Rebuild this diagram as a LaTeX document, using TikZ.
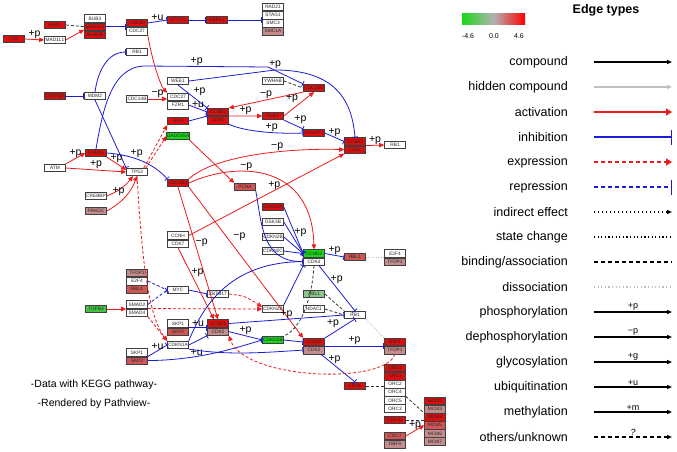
\documentclass[tikz,border=0pt]{standalone}
\usepackage{fontspec}
\setmainfont{Liberation Sans}
\usetikzlibrary{positioning,arrows.meta}

\definecolor{boxred}{RGB}{222,14,14}
\definecolor{boxmid}{RGB}{208,86,86}
\definecolor{boxpink}{RGB}{196,140,140}
\definecolor{boxgreen}{RGB}{24,215,24}
\definecolor{boxlgreen}{RGB}{140,200,140}
\definecolor{boxmgreen}{RGB}{70,196,70}
\definecolor{edgered}{RGB}{236,28,28}
\definecolor{edgeblue}{RGB}{28,28,214}

\tikzset{
gene/.style={
  draw=black!75,
  line width=0.6pt,
  minimum width=21pt,
  minimum height=7.5pt,
  inner sep=0pt,
  text=black!85,
  font=\fontsize{4.8}{5}\selectfont
  },
gwhite/.style={gene, fill=white},
gred/.style={gene, fill=boxred},
gmid/.style={gene, fill=boxmid},
gpink/.style={gene, fill=boxpink},
ggreen/.style={gene, fill=boxgreen},
glight/.style={gene, fill=boxlgreen},
gmgreen/.style={gene, fill=boxmgreen}
}
\tikzset{
link/.style={line width=0.8pt},
act/.style={link, draw=edgered, -{Triangle[length=5pt,width=4.5pt]}},
inh/.style={link, draw=edgeblue, -{Bar[width=6pt]}},
expr/.style={act, dash pattern=on 3pt off 2pt},
repr/.style={inh, dash pattern=on 3pt off 2pt},
bind/.style={link, draw=black!80, dash pattern=on 3pt off 2pt},
diss/.style={link, draw=black!25, dash pattern=on 1pt off 1.5pt},
elab/.style={font=\fontsize{10.5}{11}\selectfont, inner sep=0.5pt},
lline/.style={line width=1.2pt},
lsym/.style={font=\fontsize{9}{9}\selectfont, inner sep=1pt},
ltxt/.style={font=\fontsize{12.5}{13}\selectfont, inner sep=0pt}
}

\begin{document}
\begin{tikzpicture}[x=1pt, y=-1pt, >=latex]

\fill[white] (0,0) rectangle (677,451);
\useasboundingbox (0,0) rectangle (677,451);

% spindle checkpoint
\node[gred] (ttk) at (14,39) {TTK};
\node[gred] (bub1) at (55,25) {BUB1};
\node[gwhite] (mad1) at (55,40) {MAD1L1};
\node[gwhite] (bub3) at (95,18.5) {BUB3};
\node[gred, below=0pt of bub3] (mad2) {MAD2L1};
\node[gred, below=0pt of mad2] (bub1b) {BUB1B};
\node[gred] (cdc20) at (137,23) {CDC20};
\node[gwhite, below=0pt of cdc20] (cdc27a) {CDC27};
\node[gred] (pttg) at (178,20) {PTTG1};
\node[gred] (espl) at (217,20) {ESPL1};
\node[gwhite] (rad21) at (273,7) {RAD21};
\node[gwhite, below=0pt of rad21] (stag1) {STAG1};
\node[gwhite, below=0pt of stag1] (smc3) {SMC3};
\node[gpink, below=0pt of smc3] (smc1a) {SMC1A};

% G2/M
\node[gwhite] (rb1a) at (137,52) {RB1};
\node[gred] (cdkn2a) at (55,96) {CDKN2A};
\node[gwhite] (mdm2) at (95,96) {MDM2};
\node[gwhite] (wee1) at (178,81) {WEE1};
\node[gwhite] (ywhab) at (273,81) {YWHAB};
\node[gred] (cdc25c) at (314,88) {CDC25C};
\node[gwhite] (cdc14) at (137,99) {CDC14B};
\node[gwhite] (cdc27b) at (178,97) {CDC27};
\node[gwhite, below=0pt of cdc27b] (fzr1) {FZR1};
\node[gred] (ccnb1) at (218,112) {CCNB1};
\node[gred, below=0pt of ccnb1] (cdk1a) {CDK1};
\node[gred] (plk1) at (273,116) {PLK1};
\node[gred] (sfn) at (178,121) {SFN};
\node[ggreen] (gadd) at (178,136) {GADD45A};
\node[gred] (pkmyt) at (314,133) {PKMYT1};
\node[gred] (ccna2a) at (355,141.5) {CCNA2};
\node[gred, below=0pt of ccna2a] (cdk1b) {CDK1};
\node[gwhite] (rb1b) at (395,145) {RB1};

% DNA damage
\node[gred] (chek1) at (96,153) {CHEK1};
\node[gwhite] (atm) at (55,168) {ATM};
\node[gwhite] (tp53) at (137,172) {TP53};
\node[gwhite] (crebbp) at (96,196) {CREBBP};
\node[gpink] (prkdc) at (96,211) {PRKDC};
\node[gred] (cdc25a) at (178,183) {CDC25A};
\node[gmid] (pcna) at (245,187) {PCNA};

% G1/S
\node[gred] (cdkn2ab) at (273,207) {CDKN2A};
\node[gwhite] (gsk3b) at (273,222) {GSK3B};
\node[gwhite] (cdkn2b) at (273,237) {CDKN2B};
\node[gwhite] (cdkn2c) at (273,251) {CDKN2C};
\node[ggreen] (ccnd2) at (314,253.5) {CCND2};
\node[gwhite, below=0pt of ccnd2] (cdk4) {CDK4};
\node[gmid] (rbl1a) at (355,257) {RBL1};
\node[gwhite] (e2f4a) at (395,253.5) {E2F4};
\node[gpink, below=0pt of e2f4a] (tfdp1a) {TFDP1};
\node[gwhite] (ccnh) at (178,235.5) {CCNH};
\node[gwhite, below=0pt of ccnh] (cdk7) {CDK7};
\node[gpink] (tfdp1b) at (137,273) {TFDP1};
\node[gwhite, below=0pt of tfdp1b] (e2f4b) {E2F4};
\node[gmid, below=0pt of e2f4b] (rbl1b) {RBL1};
\node[gwhite] (myc) at (178,290) {MYC};
\node[gmgreen] (tgfb) at (96,309) {TGFB3};
\node[gwhite] (smad2) at (137,304.5) {SMAD2};
\node[gwhite, below=0pt of smad2] (smad4) {SMAD4};
\node[gwhite] (zbtb) at (218,294) {ZBTB17};
\node[gwhite] (cdkn2bb) at (273,309) {CDKN2B};
\node[glight] (abl1) at (314,294) {ABL1};
\node[gwhite] (hdac1) at (314,309) {HDAC1};
\node[gwhite] (rb1c) at (355,315) {RB1};
\node[gred] (e2f1) at (395,342) {E2F1};
\node[gpink, below=0pt of e2f1] (tfdp1c) {TFDP1};
\node[gred] (ccna2b) at (314,342) {CCNA2};
\node[gpink, below=0pt of ccna2b] (cdk2b) {CDK2};
\node[gwhite] (skp1a) at (178,323.5) {SKP1};
\node[gmid, below=0pt of skp1a] (skp2a) {SKP2};
\node[gred] (ccne1) at (218,323.5) {CCNE1};
\node[gpink, below=0pt of ccne1] (cdk2a) {CDK2};
\node[gwhite] (cdkn1a) at (178,345) {CDKN1A};
\node[gwhite] (skp1b) at (137,352.5) {SKP1};
\node[gmid, below=0pt of skp1b] (skp2b) {SKP2};
\node[ggreen] (cdkn1b) at (273,340) {CDKN1B};

% replication licensing
\node[gred] (cdc6) at (355,386) {CDC6};
\node[gred] (orc6) at (395,368) {ORC6};
\node[gred, below=0pt of orc6] (orc1) {ORC1};
\node[gwhite, below=0pt of orc1] (orc2) {ORC2};
\node[gwhite, below=0pt of orc2] (orc4) {ORC4};
\node[gwhite, below=0pt of orc4] (orc5) {ORC5};
\node[gwhite, below=0pt of orc5] (orc3) {ORC3};
\node[gred] (cdc45) at (395,420) {CDC45};
\node[gmid] (cdc7) at (395,436) {CDC7};
\node[gpink, below=0pt of cdc7] (dbf4) {DBF4};
\node[gred] (mcm2) at (435,401) {MCM2};
\node[gpink, below=0pt of mcm2] (mcm3) {MCM3};
\node[gred, below=0pt of mcm3] (mcm4) {MCM4};
\node[gmid, below=0pt of mcm4] (mcm5) {MCM5};
\node[gpink, below=0pt of mcm5] (mcm6) {MCM6};
\node[gpink, below=0pt of mcm6] (mcm7) {MCM7};

% edges, top
\draw[act] (ttk.east) -- node[above,elab]{+p} (mad1.west);
\draw[bind] (bub1.east) -- (mad2.west);
\draw[act] (mad1.east) -- ([yshift=-3pt]mad2.west);
\draw[inh] (mad2.east) -- (mad2.east -| cdc20.west);
\draw[inh] (cdc20.east) -- node[above,elab]{+u} (pttg.west);
\draw[inh] (pttg.east) -- (espl.west);
\draw[inh] (espl.east) -- (espl.east -| rad21.west);
\draw[act] (cdc27a.south east) .. controls (152,60) and (160,85) .. (cdc27b.north west);
\draw[act] (cdc14.east) -- node[above,elab]{−p} (cdc14.east -| cdc27b.west);
\draw[inh] (cdkn2a.east) -- (mdm2.west);
\draw[inh] (mdm2.north) .. controls (98,70) and (108,52) .. (rb1a.west);
\draw[inh] (mdm2.south) -- (tp53.north west);
\draw[inh] (chek1.north) .. controls (102,115) and (110,66) .. (145,66)
  -- node[pos=.42,above,elab]{+p} (268,67) -- (cdc25c.north west);
\draw[inh] (wee1.east) -- node[pos=1,above,elab]{+p} (275,70)
  .. controls (335,70) and (352,100) .. (ccna2a.north);
\draw[inh] (wee1.south) -- node[midway,above right,elab]{+p} (ccnb1.north west);
\draw[inh] (fzr1.east) -- node[midway,above,elab]{+u} (ccnb1.west);
\draw[bind] (ywhab.east) -- (cdc25c.west);
\draw[act] (cdc25c.south west) -- node[midway,above,elab]{−p} (ccnb1.north east);
\draw[act] (plk1.east) -- node[midway,above left,elab]{+p} (cdc25c.south);
\draw[act] (ccnb1.south east) -- node[midway,above,elab]{+p} (plk1.west);
\draw[inh] (plk1.south east) -- node[midway,above right,elab]{+p} (pkmyt.north west);
\draw[inh] (cdk1a.south east) .. controls (245,132) and (280,134) .. node[pos=.6,above,elab]{+p} (pkmyt.west);
\draw[inh] (pkmyt.east) -- node[midway,above,elab]{+p} (ccna2a.west);
\draw[act] (ccna2a.south east) -- node[midway,above,elab]{+p} (rb1b.west);
\draw[inh] (sfn.east) -- (ccnb1.south west);
\draw[act] (gadd.south east) -- (pcna.north west);

% edges, damage
\draw[act] (atm.north east) -- node[midway,above,elab]{+p} (chek1.west);
\draw[act] (atm.east) -- node[midway,above,elab]{+p} (tp53.west);
\draw[act] (chek1.south east) -- node[midway,above,elab]{+p} ([yshift=2pt]tp53.west);
\draw[inh] (chek1.east) .. controls (135,155) and (155,165) .. node[pos=.4,above,elab]{+p} (cdc25a.north west);
\draw[act] (crebbp.east) to[bend right=15] ([xshift=-4pt]tp53.south);
\draw[act] (prkdc.east) to[bend right=20] node[midway,above left,elab]{+p} (tp53.south);
\draw[expr] ([xshift=-4pt]tp53.north east) -- (sfn.south west);
\draw[expr] ([xshift=-2pt]tp53.north east) -- (gadd.west);
\draw[expr] (tp53.south) .. controls (142,260) and (148,315) .. (cdkn1a.north west);
\draw[act] (cdc25a.north east) .. controls (215,155) and (290,148) .. node[pos=.62,above,elab]{−p} (cdk1b.west);
\draw[act] (cdc25a.east) .. controls (240,160) and (312,165) .. node[pos=.35,above,elab]{−p} (ccnd2.north);
\draw[act] (ccnh.east) -- node[pos=.55,above,elab]{+p} (cdk1b.south west);
\draw[act] (cdc25a.south) -- node[pos=.42,right,elab]{−p} (ccne1.north);
\draw[act] (cdk7.south) -- node[pos=.35,right,elab]{+p} ([xshift=-4pt]ccne1.north);
\draw[act] (cdc25a.south east) -- node[pos=.33,right=6pt,elab]{−p} (ccna2b.north west);

% edges, G1/S
\draw[inh] (pcna.south east) .. controls (262,225) and (262,262) .. (cdk4.west);
\draw[inh] (cdkn2ab.east) -- (ccnd2.west);
\draw[inh] (gsk3b.east) -- node[midway,above right,elab]{+p} (ccnd2.west);
\draw[inh] (cdkn2b.east) -- (ccnd2.west);
\draw[inh] (cdkn2c.east) -- (ccnd2.west);
\draw[inh] (cdkn2bb.north east) -- (cdk4.south west);
\draw[inh] (cdkn1a.north east) .. controls (205,300) and (235,262) .. (cdk4.west);
\draw[inh] (ccnd2.east) -- node[midway,above,elab]{+p} (rbl1a.west);
\draw[diss] (rbl1a.east) -- (rbl1a.east -| e2f4a.west);
\draw[inh] ([xshift=5pt]cdk4.south) -- node[pos=.3,right,elab]{+p} (rb1c.north);
\draw[bind] (cdk4.south) .. controls (312,300) and (300,330) .. (cdkn1b.north east);
\draw[bind] (abl1.east) -- (rb1c.north west);
\draw[bind] (hdac1.east) -- (rb1c.west);
\draw[inh] (ccne1.east) -- node[midway,above,elab]{+p} (rb1c.west);
\draw[inh] (cdk2a.east) -- node[midway,above,elab]{+p} (cdkn1b.west);
\draw[inh] (skp1a.south east) -- node[midway,above,elab]{+u} (ccne1.south west);
\draw[inh] (cdkn1a.east) -- (cdk2a.south west);
\draw[inh] (skp1b.south east) -- node[midway,above,elab]{+u} (cdkn1a.west);
\draw[inh] (skp2b.east) .. controls (200,360) and (235,348) .. node[pos=.35,above,elab]{+u} (cdkn1b.west);
\draw[inh] (cdkn1a.south east) .. controls (230,356) and (270,352) .. (cdk2b.west);
\draw[inh] (cdkn1b.east) -- (ccna2b.west);
\draw[inh] (ccna2b.north east) .. controls (335,332) and (345,325) .. node[pos=.5,above left,elab]{+p} (rb1c.south);
\draw[diss] (rb1c.south east) -- (e2f1.north west);
\draw[inh] (ccna2b.south east) -- node[midway,above,elab]{+p} (ccna2b.south east -| e2f1.west);
\draw[inh] ([xshift=-4pt]cdk2b.south east) -- node[pos=.2,right,elab]{+p} (cdc6.north);
\draw[expr] (tfdp1c.south) .. controls (385,385) and (245,380) .. (cdk2a.south east);
\draw[bind] (cdc6.east) -- (cdc6.east -| orc2.west);
\draw[bind] (orc5.north east) -- (mcm4.north west);
\draw[bind] (cdc45.east) -- (cdc45.east -| mcm4.west);
\draw[act] (cdc7.east) -- node[midway,above,elab]{+p} (mcm5.west);

% TGF-beta / MYC
\draw[act] (tgfb.east) -- (tgfb.east -| smad2.west);
\draw[repr] (e2f4b.east) -- (myc.west);
\draw[repr] (smad2.east) -- (myc.west);
\draw[inh] (myc.east) -- (zbtb.west);
\draw[expr] (smad4.north east) -- (cdkn2bb.west);
\draw[expr] (zbtb.east) .. controls (245,296) .. ([yshift=2pt]cdkn2bb.west);
\draw[expr] (smad4.south east) -- (cdkn1a.north west);

% colour key
\shade[left color=boxgreen, right color=red, middle color=black!30] (462,13) rectangle (525,24);
\node[font=\fontsize{7}{7}\selectfont] (k1) at (468,36) {-4.6};
\node[font=\fontsize{7}{7}\selectfont] (k2) at (494,36) {0.0};
\node[font=\fontsize{7}{7}\selectfont] (k3) at (519,36) {4.6};

% edge legend
\node[font=\bfseries\fontsize{12.5}{13}\selectfont] (ltitle) at (606,10) {Edge types};
\foreach \i/\y in {1/62,2/87,3/112,4/137,5/162,6/187,7/212,8/237,
                   9/262,10/287,11/312,12/337,13/362,14/387,15/412,16/437}{
  \coordinate (ls\i) at (594,\y);
  \coordinate (le\i) at (672,\y);
}
\node[ltxt,left] (lt1) at (568,62) {compound};
\node[ltxt,left] (lt2) at (568,87) {hidden compound};
\node[ltxt,left] (lt3) at (568,112) {activation};
\node[ltxt,left] (lt4) at (568,137) {inhibition};
\node[ltxt,left] (lt5) at (568,162) {expression};
\node[ltxt,left] (lt6) at (568,187) {repression};
\node[ltxt,left] (lt7) at (568,212) {indirect effect};
\node[ltxt,left] (lt8) at (568,237) {state change};
\node[ltxt,left] (lt9) at (568,262) {binding/association};
\node[ltxt,left] (lt10) at (568,287) {dissociation};
\node[ltxt,left] (lt11) at (568,312) {phosphorylation};
\node[ltxt,left] (lt12) at (568,337) {dephosphorylation};
\node[ltxt,left] (lt13) at (568,362) {glycosylation};
\node[ltxt,left] (lt14) at (568,387) {ubiquitination};
\node[ltxt,left] (lt15) at (568,412) {methylation};
\node[ltxt,left] (lt16) at (568,437) {others/unknown};

\draw[lline, black, -{Triangle[length=5pt,width=4pt]}] (ls1) -- (le1);
\draw[lline, black!25, -{Triangle[length=5pt,width=4pt]}] (ls2) -- (le2);
\draw[lline, edgered, -{Triangle[length=6pt,width=7pt]}] (ls3) -- (le3);
\draw[lline, edgeblue, -{Bar[width=15pt]}] (ls4) -- (le4);
\draw[lline, edgered, dash pattern=on 4pt off 3pt, -{Triangle[length=6pt,width=7pt]}] (ls5) -- (le5);
\draw[lline, edgeblue, dash pattern=on 4pt off 3pt, -{Bar[width=15pt]}] (ls6) -- (le6);
\draw[lline, black, dash pattern=on 1.2pt off 2.8pt, -{Triangle[length=5pt,width=4pt]}] (ls7) -- (le7);
\draw[lline, black, dash pattern=on 1.2pt off 2.4pt] (ls8) -- (le8);
\draw[lline, black, dash pattern=on 4pt off 3pt] (ls9) -- (le9);
\draw[lline, black!25, dash pattern=on 1.2pt off 2.4pt] (ls10) -- (le10);
\draw[lline, black, -{Triangle[length=5pt,width=4pt]}] (ls11) -- node[above,lsym]{+p} (le11);
\draw[lline, black, -{Triangle[length=5pt,width=4pt]}] (ls12) -- node[above,lsym]{−p} (le12);
\draw[lline, black, -{Triangle[length=5pt,width=4pt]}] (ls13) -- node[above,lsym]{+g} (le13);
\draw[lline, black, -{Triangle[length=5pt,width=4pt]}] (ls14) -- node[above,lsym]{+u} (le14);
\draw[lline, black, -{Triangle[length=5pt,width=4pt]}] (ls15) -- node[above,lsym]{+m} (le15);
\draw[lline, black, dash pattern=on 4pt off 3pt, -{Triangle[length=5pt,width=4pt]}] (ls16) -- node[above,lsym]{\textit{?}} (le16);

% note
\node[font=\fontsize{10.5}{11}\selectfont] (note1) at (94,385) {-Data with KEGG pathway-};
\node[font=\fontsize{10.5}{11}\selectfont, below=1.5pt of note1] (note2) {-Rendered by Pathview-};

\end{tikzpicture}
\end{document}
